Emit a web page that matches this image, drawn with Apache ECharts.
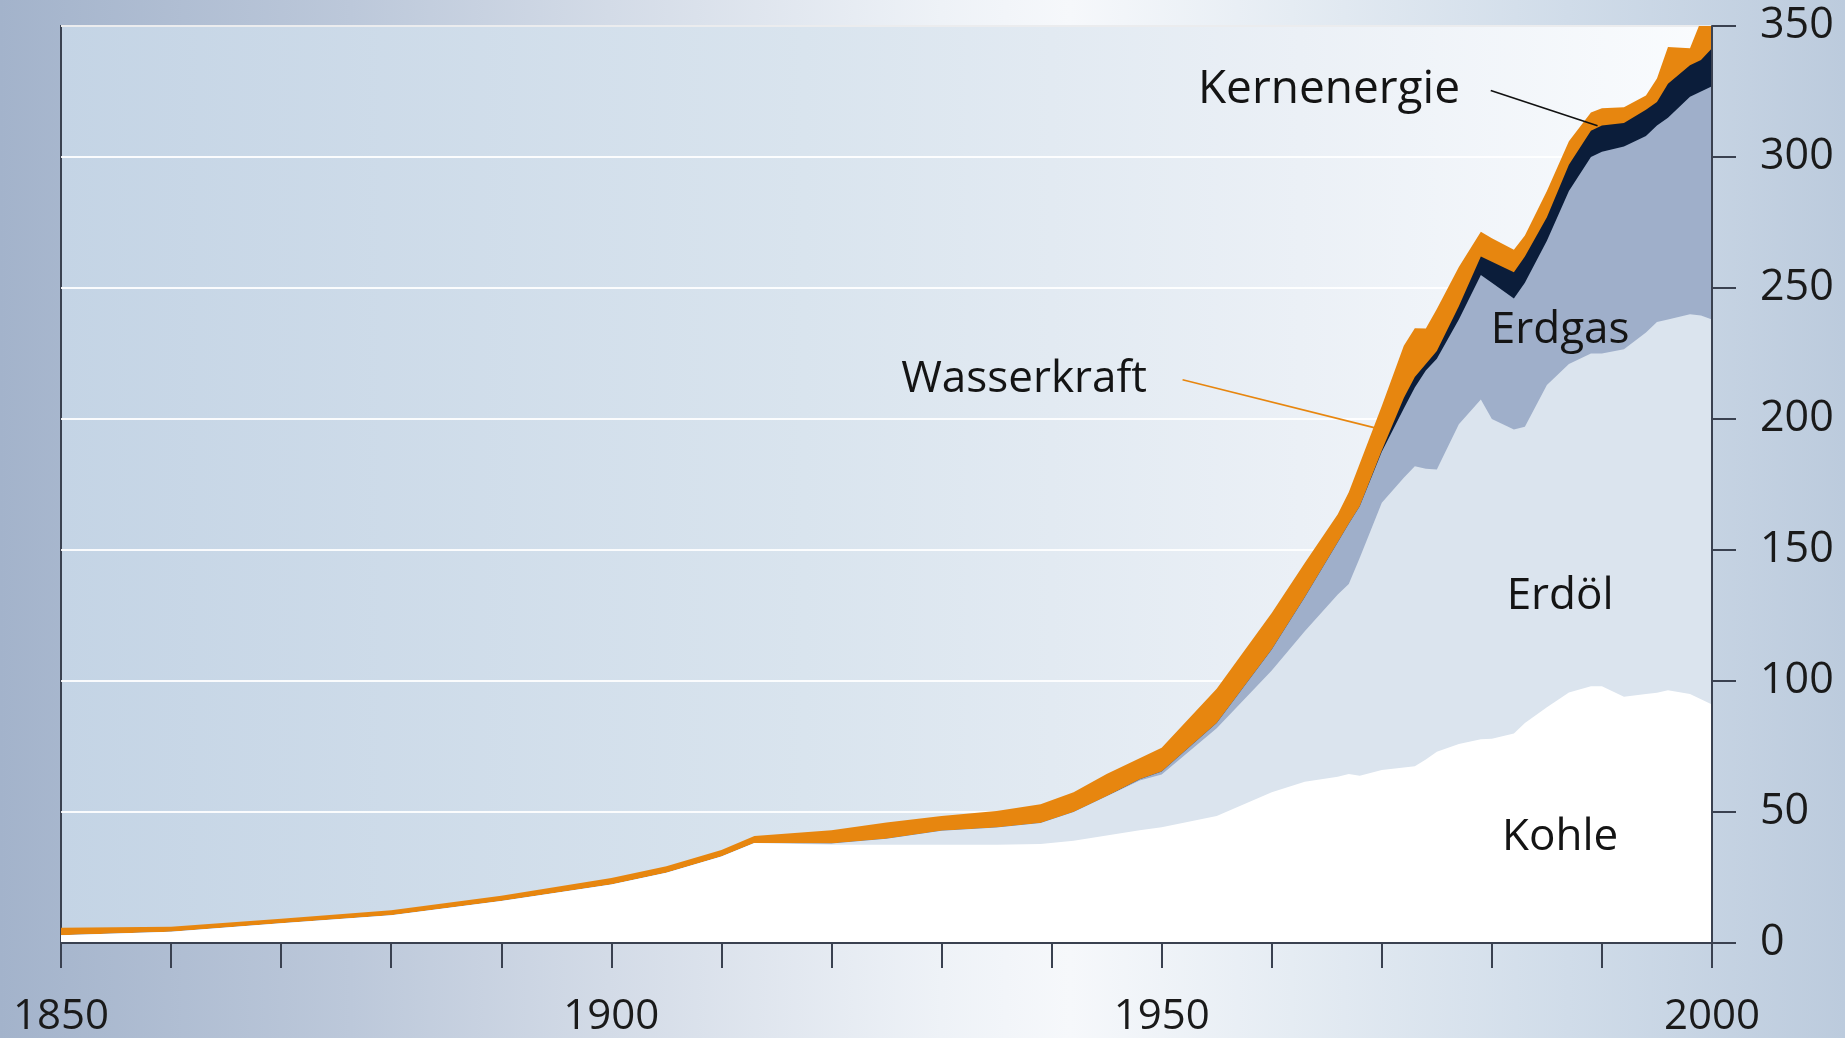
<!DOCTYPE html>
<html>
<head>
<meta charset="utf-8">
<title>Weltenergieverbrauch 1850-2000</title>
<script src="https://cdn.jsdelivr.net/npm/echarts@6/dist/echarts.min.js"></script>
<style>
	html, body {
		margin: 0;
		padding: 0;
		background: linear-gradient(to right, #a3b3cb 0%, #bcc8da 19%, #d3dbe7 33%, #eef2f7 51%, #f6f8fb 58%, #e5ecf3 70%, #d0dce9 85%, #bccbdd 100%);
	}
	#main {
		width: 1845px;
		height: 1038px;
	}
</style>
</head>
<body onload="init()">
<div id="main"></div>
<script>
// Jahre (gemeinsame Stuetzstellen aller Reihen)
const years = [1850, 1860, 1870, 1880, 1890, 1900, 1905, 1910, 1913, 1920,
	1925, 1930, 1935, 1939, 1942, 1945, 1948, 1950, 1955, 1960,
	1963, 1966, 1967, 1968, 1970, 1972, 1973, 1974, 1975, 1977,
	1979, 1980, 1982, 1983, 1985, 1987, 1989, 1990, 1992, 1994,
	1995, 1996, 1998, 1999, 2000]

// Verbrauch je Energietraeger (von unten nach oben gestapelt)
const kohle = [3.0, 4.3, 7.5, 10.6, 16.0, 22.3, 26.8, 33.0, 38.2, 37.5,
	37.5, 37.5, 37.5, 37.8, 39.0, 41.0, 43.0, 44.2, 48.5, 57.5,
	61.5, 63.5, 64.5, 63.8, 66.0, 67.0, 67.5, 70.0, 73.0, 76.0,
	77.8, 78.0, 80.0, 84.0, 90.0, 95.6, 98.0, 98.0, 94.0, 95.0,
	95.5, 96.5, 95.0, 93.0, 91.0]
const erdoel = [0, 0, 0, 0, 0, 0, 0, 0, 0, 0.5,
	2.3, 5.3, 6.6, 8.0, 11.0, 15.0, 19.0, 20.1, 33.5, 46.5,
	57.5, 69.5, 72.5, 83.2, 102.0, 110.6, 114.5, 111.0, 107.7, 122.0,
	129.6, 122.0, 116.0, 113.0, 123.0, 125.4, 127.0, 127.0, 132.6, 138.0,
	141.5, 141.5, 145.0, 146.5, 147.0]
const erdgas = [0, 0, 0, 0, 0, 0, 0, 0, 0, 0,
	0, 0, 0, 0, 0, 0, 0.5, 1.2, 2.0, 8.0,
	13.0, 20.0, 23.0, 19.7, 19.5, 26.4, 30.0, 37.5, 42.3, 40.0,
	47.6, 52.0, 50.0, 55.0, 55.0, 66.0, 75.0, 77.0, 77.4, 75.0,
	75.0, 77.0, 83.0, 85.5, 89.0]
const kern = [0, 0, 0, 0, 0, 0, 0, 0, 0, 0,
	0, 0, 0, 0, 0, 0, 0, 0, 0, 0,
	0, 0, 0, 0, 0.5, 4.0, 4.0, 2.5, 3.0, 5.0,
	7.0, 8.0, 10.0, 10.0, 9.0, 10.0, 10.0, 10.0, 9.0, 10.0,
	9.0, 13.0, 12.0, 12.0, 14.5]
const wasser = [2.8, 1.9, 1.8, 1.9, 2.0, 2.5, 2.5, 2.5, 2.6, 5.0,
	6.2, 5.7, 6.3, 7.2, 7.5, 8.5, 8.0, 9.0, 13.0, 14.0,
	13.0, 10.6, 12.0, 16.3, 17.0, 20.0, 18.6, 13.5, 16.0, 15.0,
	9.5, 9.0, 8.6, 8.0, 10.0, 9.0, 7.0, 6.6, 6.0, 5.5,
	9.0, 14.0, 6.5, 15.0, 15.5]

// Achsen
const yTicks = [0, 50, 100, 150, 200, 250, 300, 350]
const xLabelYears = [1850, 1900, 1950, 2000]

// Beschriftungen im Diagramm (Datenkoordinaten)
const labelNames = ['Kohle', 'Erdöl', 'Erdgas', 'Kernenergie', 'Wasserkraft']
const labelAt = [[1986.2, 40.3], [1986.2, 132.1], [1986.2, 233.9], [1965.2, 325.8], [1937.5, 215.2]]
const leaderKern = [[1979.9, 325.4], [1989.6, 311.9]]
const leaderWasser = [[1951.9, 215.0], [1969.3, 196.7]]

const seriesColors = ['#ffffff', '#dbe4ee', '#9fafca', '#0b1d3a', '#e7860f']
const axisColor = '#3a4150'
const font = '"Open Sans", "Noto Sans", sans-serif'

let myChart

function init() {
	myChart = echarts.init(document.getElementById('main'))

	// Stapel selbst aufsummieren (Wertachse als x-Achse), oberste Schicht zuerst zeichnen
	let stackData = [kohle, erdoel, erdgas, kern, wasser]
	let sums = years.map(function() { return 0 })
	let layers = []
	for (let i = 0; i < stackData.length; i++) {
		sums = sums.map(function(s, j) { return s + stackData[i][j] })
		layers.push({
			name: labelNames[i],
			type: 'line',
			symbol: 'none',
			lineStyle: { width: 0 },
			areaStyle: { color: seriesColors[i], opacity: 1 },
			data: years.map(function(y, j) { return [y, sums[j]] })
		})
	}
	let series = layers.reverse()

	let option = {
		animation: false,
		grid: {
			left: 61,
			right: 133,
			top: 26,
			bottom: 94,
			show: true,
			borderColor: axisColor,
			borderWidth: 2,
			backgroundColor: new echarts.graphic.LinearGradient(0, 0, 1, 0, [
				{ offset: 0, color: '#c4d4e5' },
				{ offset: 0.45, color: '#d9e4ee' },
				{ offset: 0.75, color: '#ebf0f6' },
				{ offset: 1, color: '#fafcfe' }
			])
		},
		xAxis: {
			type: 'value',
			min: 1850,
			max: 2000,
			interval: 10,
			z: 3,
			axisLine: { lineStyle: { color: axisColor, width: 2 } },
			axisTick: { length: 25, lineStyle: { color: axisColor, width: 2 } },
			axisLabel: {
				margin: 53,
				fontSize: 42,
				fontFamily: font,
				color: '#1a1a1a',
				formatter: function(v) {
					return xLabelYears.indexOf(v) >= 0 ? String(v) : ''
				}
			},
			splitLine: { show: false }
		},
		yAxis: {
			type: 'value',
			position: 'right',
			min: yTicks[0],
			max: yTicks[yTicks.length - 1],
			interval: 50,
			z: 3,
			axisLine: { show: true, lineStyle: { color: axisColor, width: 2 } },
			axisTick: { show: true, length: 24, lineStyle: { color: axisColor, width: 2 } },
			axisLabel: {
				margin: 48,
				fontSize: 43,
				fontFamily: font,
				color: '#1a1a1a'
			},
			splitLine: { show: true, lineStyle: { color: '#ffffff', width: 2, opacity: 0.9 } }
		},
		series: series
	}
	myChart.setOption(option)

	// Beschriftungen und Hinweislinien
	let graphics = []
	for (let i = 0; i < labelNames.length; i++) {
		let p = myChart.convertToPixel({ gridIndex: 0 }, labelAt[i])
		graphics.push({
			type: 'text',
			x: p[0],
			y: p[1],
			z: 10,
			style: {
				text: labelNames[i],
				fill: '#141414',
				font: (labelNames[i] == 'Kernenergie' ? '46px ' : '44px ') + font,
				align: 'center',
				verticalAlign: 'middle'
			}
		})
	}
	let k0 = myChart.convertToPixel({ gridIndex: 0 }, leaderKern[0])
	let k1 = myChart.convertToPixel({ gridIndex: 0 }, leaderKern[1])
	let w0 = myChart.convertToPixel({ gridIndex: 0 }, leaderWasser[0])
	let w1 = myChart.convertToPixel({ gridIndex: 0 }, leaderWasser[1])
	graphics.push({
		type: 'line', z: 10,
		shape: { x1: k0[0], y1: k0[1], x2: k1[0], y2: k1[1] },
		style: { stroke: '#111111', lineWidth: 1.6 }
	})
	graphics.push({
		type: 'line', z: 10,
		shape: { x1: w0[0], y1: w0[1], x2: w1[0], y2: w1[1] },
		style: { stroke: '#e7860f', lineWidth: 1.6 }
	})
	myChart.setOption({ graphic: graphics })
}
</script>
</body>
</html>
